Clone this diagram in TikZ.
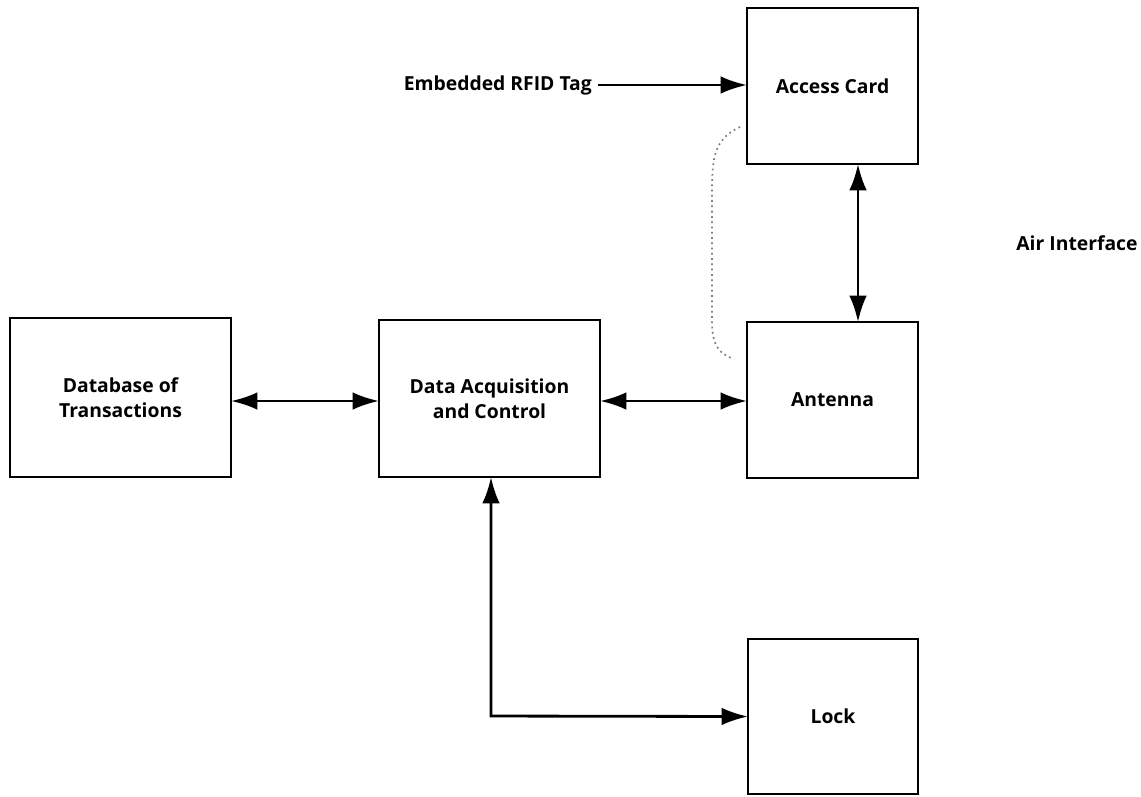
\documentclass[tikz,border=0pt]{standalone}
\usepackage{fontspec}
\setmainfont{Open Sans}
\usetikzlibrary{arrows.meta}

\begin{document}
\begin{tikzpicture}[x=0.02cm, y=-0.02cm]
            \tikzset{block/.style={draw, line width=1.3pt, outer sep=0pt, align=center, font=\bfseries\fontsize{11}{14}\selectfont}}
            \tikzset{link/.style={line width=1.6pt, >={Latex[length=15pt, width=10pt]}}}
            \useasboundingbox (0, 0) rectangle (1141, 796);
            \node[block, minimum width=3.42cm, minimum height=3.12cm] (card) at (832.5, 86) {Access Card};
            \node[block, minimum width=3.42cm, minimum height=3.12cm] (antenna) at (832.5, 400) {Antenna};
            \node[block, minimum width=3.40cm, minimum height=3.10cm] (lock) at (833, 716.5) {Lock};
            \node[block, minimum width=4.42cm, minimum height=3.18cm] (db) at (120.5, 397.5) {Database of\\Transactions};
            \node[block, minimum width=4.42cm, minimum height=3.14cm] (daq) at (489.5, 398.5) {Data Acquisition\\and Control};
            \node[font=\bfseries\fontsize{11}{14}\selectfont, anchor=east] (tag) at (598, 85) {Embedded RFID Tag};
            \node[font=\bfseries\fontsize{11}{14}\selectfont] (air) at (1077, 243) {Air Interface};
            \coordinate (corner) at (491, 716);
            \coordinate (airlink) at (858, 0);
            \draw[link, ->] (tag.east) -- (tag.east -| card.west);
            \draw[link, <->] (card.south -| airlink) -- (antenna.north -| airlink);
            \draw[link, <->] (db.east |- 0, 401) -- (daq.west |- 0, 401);
            \draw[link, <->] (daq.east |- 0, 401) -- (antenna.west |- 0, 401);
            \draw[link, <->] (daq.south -| corner) -- (corner) -- (lock.west);
            \draw[gray, dotted, line width=1pt] (740, 127) .. controls (712, 140) and (712, 160) .. (712, 200)
                -- (712, 320) .. controls (712, 345) and (718, 352) .. (731, 358);
        \end{tikzpicture}
\end{document}
